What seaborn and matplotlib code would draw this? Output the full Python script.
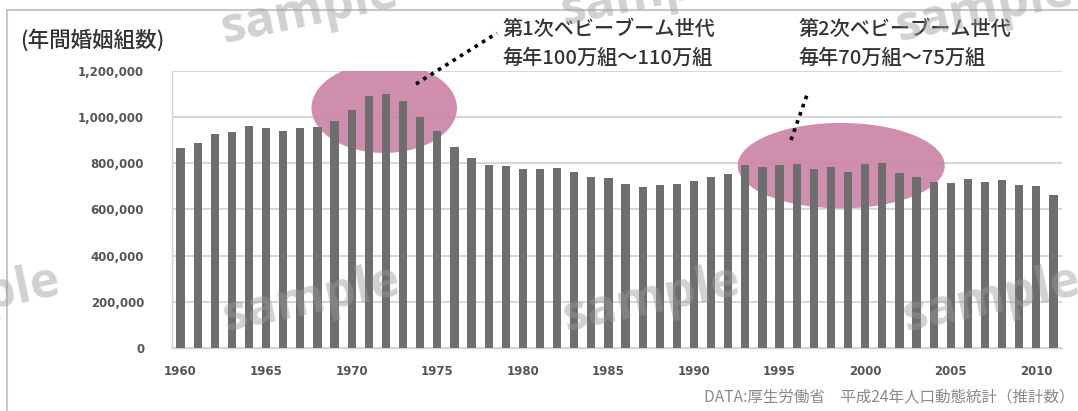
import matplotlib
matplotlib.use("Agg")
import matplotlib.pyplot as plt
import seaborn as sns
import pandas as pd
from matplotlib.patches import Ellipse
from matplotlib.lines import Line2D

# ---- data ----
years = list(range(1960, 2012))
marriages = [866115, 890158, 928341, 937516, 963130, 954852, 940120, 953096, 956312, 984142,
             1029405, 1091229, 1099984, 1071923, 1000455, 941628, 871543, 821029, 793257, 788505,
             774702, 776531, 781252, 762552, 739991, 735850, 710962, 696173, 707716, 708316,
             722138, 742264, 754441, 792658, 782738, 791888, 795080, 775651, 784595, 762028,
             798138, 799999, 757331, 740191, 720418, 714265, 730971, 719822, 726106, 707734,
             700214, 661895]
tick_years = [1960, 1965, 1970, 1975, 1980, 1985, 1990, 1995, 2000, 2005, 2010]
y_ticks = [0, 200000, 400000, 600000, 800000, 1000000, 1200000]
y_label = "(年間婚姻組数)"
boom1_title = "第1次ベビーブーム世代"
boom1_sub = "毎年100万組～110万組"
boom2_title = "第2次ベビーブーム世代"
boom2_sub = "毎年70万組～75万組"
source = "DATA:厚生労働省　平成24年人口動態統計（推計数）"
watermark = "sample"

df = pd.DataFrame({"year": [str(y) for y in years], "marriages": marriages})

sns.set_style("white")
plt.rcParams['font.family'] = ['Noto Sans CJK JP', 'DejaVu Sans']

W, H = 1078, 411
fig = plt.figure(figsize=(W / 100, H / 100), dpi=100)
ax = fig.add_axes([172 / W, 1 - 348 / H, (1062 - 172) / W, (348 - 71) / H])

sns.barplot(data=df, x="year", y="marriages", color="#6e6e6e", saturation=1,
            width=0.48, ax=ax, zorder=3, linewidth=0, edgecolor="none")

ax.set_ylim(0, 1200000)
ax.set_xlim(-0.5, len(years) - 0.5)
ax.set_yticks(y_ticks)
ax.set_yticklabels([f"{v:,}" for v in y_ticks], family="DejaVu Sans", fontsize=8.5,
                   fontweight="bold", color="#555555")
ax.set_xticks([years.index(y) for y in tick_years])
ax.set_xticklabels([str(y) for y in tick_years], family="DejaVu Sans", fontsize=8.5,
                   fontweight="bold", color="#555555")
ax.tick_params(axis="both", length=0)
ax.tick_params(axis="y", pad=20)
ax.tick_params(axis="x", pad=12)
ax.set_xlabel("")
ax.set_ylabel("")
ax.yaxis.grid(True, color="#d3d3d3", linewidth=1.3, zorder=0)
ax.set_axisbelow(True)
for s in ["top", "right"]:
    ax.spines[s].set_visible(False)
for s in ["left", "bottom"]:
    ax.spines[s].set_color("#d3d3d3")
    ax.spines[s].set_linewidth(1.0)

# highlight ellipses (baby-boom periods)
pink = "#cb84a6"
ax.add_patch(Ellipse((11.9, 1040000), 8.5, 390000, facecolor=pink, edgecolor="none",
                     alpha=0.92, zorder=2))
ax.add_patch(Ellipse((38.6, 790000), 12.1, 370000, facecolor=pink, edgecolor="none",
                     alpha=0.92, zorder=2))

def fx(px):
    return px / W

def fy(py):
    return 1 - py / H

# dotted leader lines
fig.add_artist(Line2D([fx(416), fx(497)], [fy(84), fy(33)], color="black", lw=2.6,
                      linestyle=(0, (1, 1.4)), zorder=6))
fig.add_artist(Line2D([fx(791), fx(808)], [fy(140), fy(92)], color="black", lw=2.6,
                      linestyle=(0, (1, 1.4)), zorder=6))

# annotation texts
tkw = dict(fontsize=14.5, color="#333333", va="center", ha="left", fontweight="medium")
fig.text(fx(502), fy(29), boom1_title, **tkw)
fig.text(fx(502), fy(58), boom1_sub, **tkw)
fig.text(fx(798), fy(29), boom2_title, **tkw)
fig.text(fx(798), fy(58), boom2_sub, **tkw)

fig.text(fx(20), fy(40), y_label, fontsize=15.5, color="#333333", va="center", ha="left",
         fontweight="medium")
fig.text(fx(1074), fy(397), source, fontsize=11.2, color="#8a8a8a", va="center", ha="right")

# frame
fig.add_artist(Line2D([fx(7), fx(1078)], [fy(10), fy(10)], color="#c8c8c8", lw=1.5))
fig.add_artist(Line2D([fx(7), fx(7)], [fy(10), fy(411)], color="#c8c8c8", lw=1.5))

# watermark
for (px, py) in [(-28, 300), (312, 300), (652, 300), (992, 300),
                 (310, 12), (650, -6), (985, 10)]:
    fig.text(fx(px), fy(py), watermark, fontsize=36, family="Open Sans",
             fontweight="bold", color="#9a9a9a", alpha=0.45, rotation=12,
             ha="center", va="center", zorder=10)

fig.savefig("out.png", dpi=100)
